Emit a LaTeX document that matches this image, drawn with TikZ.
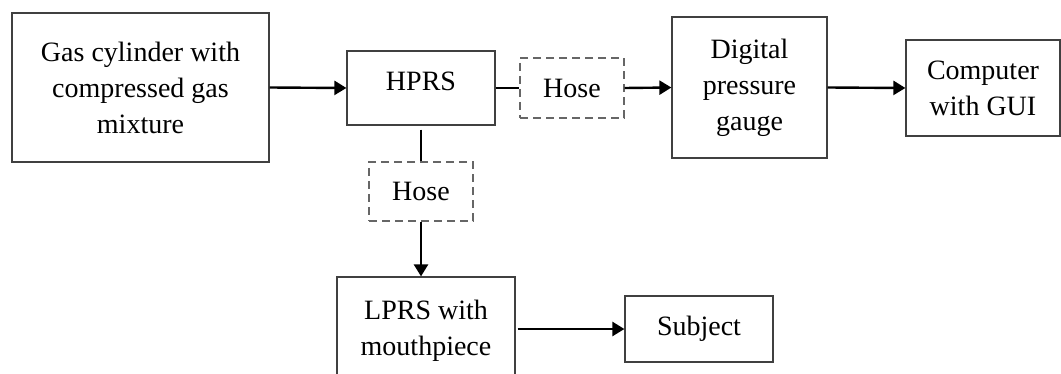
\documentclass[tikz,border=0pt]{standalone}
\usepackage{fontspec}
\setmainfont{Liberation Serif}
\usetikzlibrary{arrows.meta}
\tikzset{%
    blk/.style={rectangle, draw=black!75, line width=0.6pt, align=center, inner sep=2pt,
        font=\fontsize{14}{18}\selectfont},
    hos/.style={blk, draw=black!60, dashed, dash pattern=on 4pt off 2.5pt},
    pri/.style={line width=1.2pt},
    pra/.style={line width=1.2pt, -{Triangle[length=6pt, width=7pt]}},
}

\begin{document}
\begin{tikzpicture}[x=0.5pt, y=-0.5pt]
    \useasboundingbox (0,0) rectangle (1061,374);
    \clip (0,0) rectangle (1061,374);
    \node [blk, minimum width=128.5pt, minimum height=74.5pt] (gas) at (140.5,87.5)
        {Gas cylinder with\\compressed gas\\mixture};
    \node [blk, minimum width=74pt, minimum height=37pt, text depth=7pt] (hprs) at (421,88) {HPRS};
    \node [hos, minimum width=52pt, minimum height=30pt] (hose) at (572,88) {Hose};
    \node [blk, minimum width=77.5pt, minimum height=70.5pt] (dpg) at (749.5,87.5)
        {Digital\\pressure\\gauge};
    \node [blk, minimum width=77pt, minimum height=48pt] (pc) at (983,88) {Computer\\with GUI};
    \node [hos, minimum width=52pt, minimum height=29.5pt] (hosb) at (421,191.5) {Hose};
    \node [blk, minimum width=89pt, minimum height=54pt] (lprs) at (426,331)
        {LPRS with\\mouthpiece};
    \node [blk, minimum width=74pt, minimum height=33pt] (sub) at (699,329) {Subject};
    \draw [pra] (gas.east) -- (hprs.west);
    \draw [pri] (hprs.east) -- (hose.west);
    \draw [pra] (hose.east) -- (dpg.west);
    \draw [pra] (dpg.east) -- (pc.west);
    \draw [pri] ([yshift=-2pt]hprs.south) -- (hosb.north);
    \draw [pra] (hosb.south) -- (lprs.north-|hosb.south);
    \draw [pra] ([xshift=1pt]lprs.east|-sub.west) -- (sub.west);
\end{tikzpicture}
\end{document}
